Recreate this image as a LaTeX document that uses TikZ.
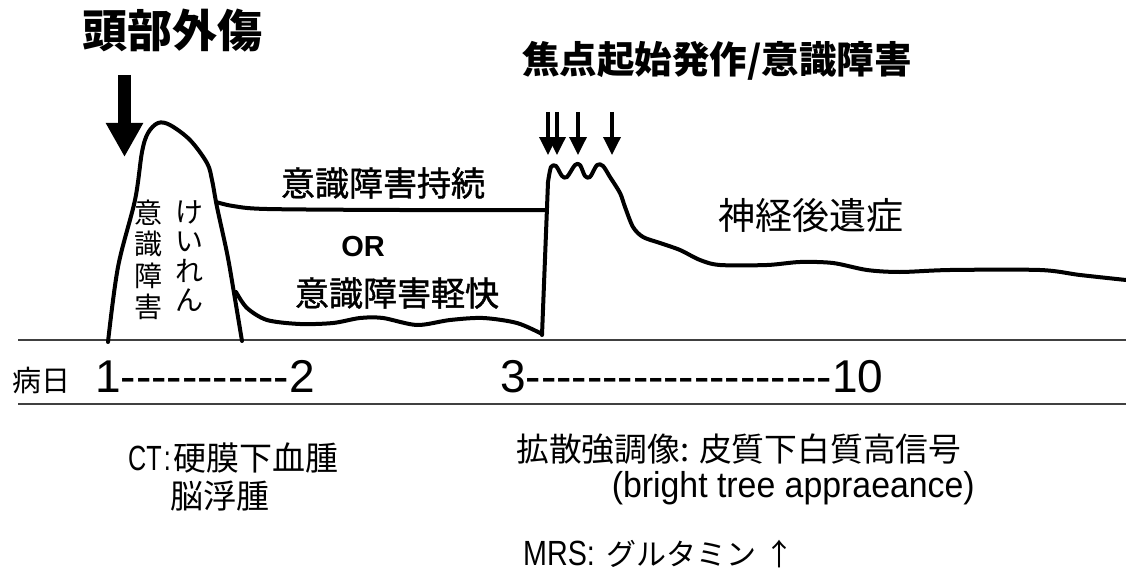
\documentclass[tikz,border=0pt]{standalone}
\usepackage{fontspec}
\setmainfont{Liberation Sans}
\newfontfamily\lat{Liberation Sans}
\newfontfamily\jp{Noto Sans CJK JP}
\newfontfamily\jpsb{Noto Sans CJK JP}[FakeBold=1.2]
\usetikzlibrary{arrows.meta}
\newcommand{\setfs}[2]{\fontsize{#1}{#2}\selectfont}
\begin{document}
\begin{tikzpicture}[x=1pt,y=-1pt,
  curve/.style={line width=4pt, line cap=round, line join=round},
  rulel/.style={line width=1.3pt, black!75},
  lbl/.style={inner sep=0pt, text=black},
  bigarrow/.style={line width=13pt, -{Triangle[width=35pt,length=34pt]}},
  smallarrow/.style={line width=3.5pt, -{Triangle[width=17pt,length=18pt]}}]
\useasboundingbox (0,0) rectangle (1126,575);
\fill[white] (0,0) rectangle (1126,575);

% rules
\draw[rulel] (18,340) -- (1126,340);
\draw[rulel] (18,404) -- (1126,404);

% titles
\node[lbl, font={\jp\bfseries\setfs{45}{50}}] (title1) at (172,31) {頭部外傷};
\node[lbl, font={\jp\bfseries\setfs{37.5}{40}}] (title2) at (717,61) {焦点起始発作/意識障害};

% arrows
\coordinate (ba1) at (124.5,75); \coordinate (ba2) at (124.5,157);
\draw[bigarrow] (ba1) -- (ba2);
\foreach \i/\xx in {1/548,2/557,3/578,4/612}{
  \coordinate (sa\i a) at (\xx,112); \coordinate (sa\i b) at (\xx,155);
  \draw[smallarrow] (sa\i a) -- (sa\i b);
}

% peak
\draw[curve] plot[smooth, tension=0.55] coordinates {(108,342) (118,267) (135,200) (142,152) (148,133) (158,123) (170,125) (190,140) (207,163) (212,180) (217,207) (227,253) (233,287) (242,341)};
% upper branch
\draw[curve] plot[smooth, tension=0.5] coordinates {(216,202) (233,206) (267,209) (400,210) (545,210)};
% lower branch
\draw[curve] plot[smooth, tension=0.5] coordinates {(236,292) (247,308) (267,320) (300,324) (333,323) (360,318) (383,318) (417,325) (450,320) (483,318) (517,323) (542,334)};
% seizure period and sequelae
\draw[curve] (542,335) -- (548,182) -- plot[smooth, tension=0.5] coordinates {(548,182) (551,167) (556,166) (562,176) (567,177) (575,165) (580,165) (585,176) (590,177) (597,165) (603,166) (610,177) (620,193) (625,207) (633,227) (643,237) (660,243) (680,250) (700,260) (720,265) (767,265) (800,262) (833,263) (867,270) (900,272) (950,270) (1040,270) (1080,275) (1126,280)};

% labels in graph
\node[lbl, font={\jp\setfs{28}{31.5}}, align=center] (v1) at (148,260) {意\\識\\障\\害};
\node[lbl, font={\jp\setfs{28}{29.5}}, align=center] (v2) at (189,256) {け\\い\\れ\\ん};
\node[lbl, font={\jpsb\setfs{34}{36}}] (upper) at (383,183) {意識障害持続};
\node[lbl, font={\lat\bfseries\setfs{29}{30}}] (or) at (363,247) {OR};
\node[lbl, font={\jpsb\setfs{34}{36}}] (lower) at (397,293) {意識障害軽快};
\node[lbl, font={\jp\setfs{37}{40}}] (seq) at (811,215) {神経後遺症};

% day axis
\node[lbl, anchor=base west, font={\jp\setfs{29}{30}}] (day) at (12,391) {病日};
\node[lbl, anchor=base west, font={\lat\setfs{46}{48}}] (d12) at (95,392) {1-----------2};
\node[lbl, anchor=base west, font={\lat\setfs{46}{48}}] (d310) at (500,392) {3--------------------10};

% findings
\node[lbl, anchor=base west] (ct) at (128,470) {\scalebox{0.72}[1]{\lat\setfs{35}{36}CT\kern3pt:}\hspace{3pt}{\jp\setfs{33}{36}硬膜下血腫}};
\node[lbl, anchor=base, font={\jp\setfs{33}{36}}] (ct2) at (220,508) {脳浮腫};
\node[lbl, anchor=base west, font={\jp\setfs{32.8}{36}}] (dwi) at (516,461) {拡散強調像: 皮質下白質高信号};
\node[lbl, anchor=base east] (btree) at (975,497) {\scalebox{0.94}[1]{\lat\setfs{36}{38}(bright tree appraeance)}};
\node[lbl, anchor=base west] (mrs) at (523,565) {\scalebox{0.82}[1]{\lat\setfs{35}{36}MRS:}\hspace{12pt}{\jp\setfs{30}{32}グルタミン\hspace{8pt}↑}};
\end{tikzpicture}
\end{document}
